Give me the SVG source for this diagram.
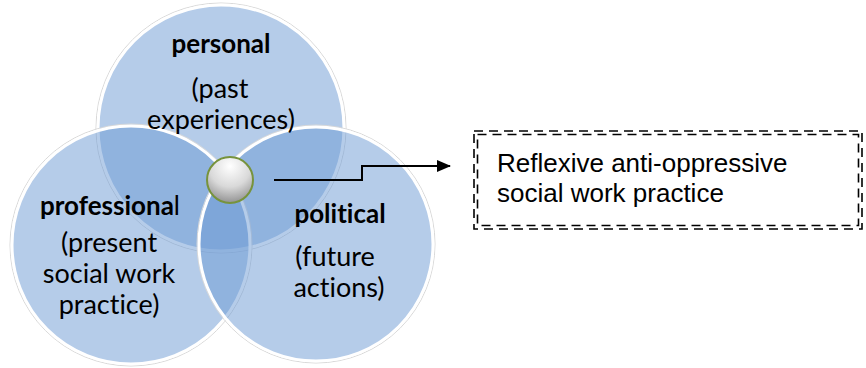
<svg xmlns="http://www.w3.org/2000/svg" width="866" height="368" viewBox="0 0 866 368">
<style>
.c{fill:#6b99d3;fill-opacity:0.5;stroke:#ffffff;stroke-width:3}
.o{fill:none;stroke:#d8d8d8;stroke-width:1}
.t{font-family:Lato,"Open Sans",sans-serif;font-size:27px;fill:#000;text-anchor:middle;font-variant-ligatures:none}
.b{font-weight:bold;font-size:26px}
.box{fill:none;stroke:#000;stroke-width:1.6;stroke-dasharray:9 6}
.bt{font-family:"Liberation Sans",Arial,sans-serif;font-size:26px;fill:#000}
</style>
<defs>
<radialGradient id="g" cx="0.5" cy="0.2" r="0.9">
<stop offset="0" stop-color="#ffffff"/>
<stop offset="0.5" stop-color="#d9d9d9"/>
<stop offset="1" stop-color="#7f7f7f"/>
</radialGradient>
<marker id="ah" markerWidth="14" markerHeight="12" refX="13" refY="6" orient="auto" markerUnits="userSpaceOnUse">
<path d="M0,0 L14,6 L0,12 Z" fill="#000"/>
</marker>
</defs>
<g id="personal">
<circle class="o" cx="221" cy="128" r="125"/>
<circle class="c" cx="221" cy="128" r="123"/>
</g>
<g id="professional">
<circle class="o" cx="131" cy="245" r="121"/>
<circle class="c" cx="131" cy="245" r="119"/>
</g>
<g id="political">
<circle class="o" cx="316" cy="244" r="119"/>
<circle class="c" cx="316" cy="244" r="117"/>
</g>
<g id="labels">
<text class="t b" x="221" y="53">personal</text>
<text class="t" x="220" y="98">(past</text>
<text class="t" x="221" y="129">experiences)</text>
<text class="t b" x="110" y="215">professiona<tspan font-weight="normal">l</tspan></text>
<text class="t" x="109" y="252">(present</text>
<text class="t" x="109" y="283">social work</text>
<text class="t" x="109" y="314">practice)</text>
<text class="t b" x="340" y="223">political</text>
<text class="t" x="335" y="266">(future</text>
<text class="t" x="339" y="297">actions)</text>
</g>
<g id="center">
<circle cx="230" cy="180" r="23" fill="url(#g)" stroke="#77933c" stroke-width="2"/>
</g>
<g id="connectors">
<polyline points="274,180 362,180 362,166 450,166" fill="none" stroke="#000" stroke-width="2" marker-end="url(#ah)"/>
</g>
<g id="result">
<rect class="box" x="474" y="131" width="388" height="98"/>
<rect class="box" x="477.5" y="134.5" width="381" height="91"/>
<text class="bt" x="497" y="172">Reflexive anti-oppressive</text>
<text class="bt" x="497" y="202">social work practice</text>
</g>
</svg>
